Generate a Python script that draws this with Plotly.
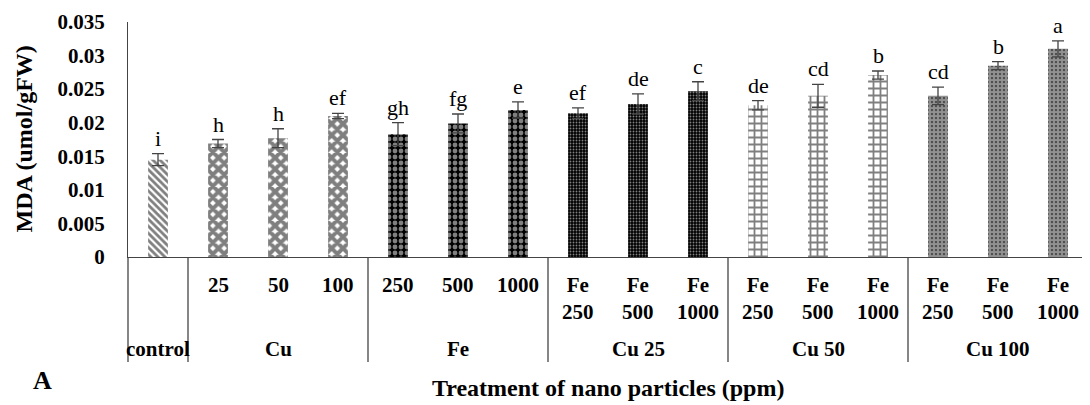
import plotly.graph_objects as go

# ---- data ----
groups = ["control", "Cu", "Cu", "Cu", "Fe", "Fe", "Fe",
          "Cu 25", "Cu 25", "Cu 25", "Cu 50", "Cu 50", "Cu 50",
          "Cu 100", "Cu 100", "Cu 100"]
sub_labels = ["", "25", "50", "100", "250", "500", "1000",
              "Fe<br>250", "Fe<br>500", "Fe<br>1000",
              "Fe<br>250", "Fe<br>500", "Fe<br>1000",
              "Fe<br>250", "Fe<br>500", "Fe<br>1000"]
values = [0.0145, 0.0169, 0.0177, 0.0210, 0.0183, 0.0199, 0.0219,
          0.0214, 0.0228, 0.0247, 0.0226, 0.0240, 0.0271,
          0.0240, 0.0285, 0.0310]
errors = [0.0009, 0.0006, 0.0014, 0.0004, 0.0017, 0.0014, 0.0012,
          0.0008, 0.0015, 0.0014, 0.0007, 0.0017, 0.0006,
          0.0013, 0.0006, 0.0012]
letters = ["i", "h", "h", "ef", "gh", "fg", "e", "ef", "de", "c",
           "de", "cd", "b", "cd", "b", "a"]
group_names = ["control", "Cu", "Fe", "Cu 25", "Cu 50", "Cu 100"]

# ---- styles per group ----
patterns = {
    "control": dict(shape="\\", fgcolor="black", bgcolor="white", size=5, solidity=0.55),
    "Cu": dict(shape="x", fgcolor="black", bgcolor="white", size=8, solidity=0.75),
    "Fe": dict(shape=".", fgcolor="white", bgcolor="black", size=6, solidity=0.5),
    "Cu 25": dict(shape=".", fgcolor="white", bgcolor="black", size=3, solidity=0.3),
    "Cu 50": dict(shape="+", fgcolor="black", bgcolor="white", size=7, solidity=0.45),
    "Cu 100": dict(shape=".", fgcolor="white", bgcolor="#222222", size=4, solidity=0.8),
}

serif = "Liberation Serif"
n = len(values)
cats = [f"{g}|{s}" for g, s in zip(groups, sub_labels)]

fig = go.Figure()
for g in group_names:
    idx = [i for i in range(n) if groups[i] == g]
    fig.add_trace(go.Bar(
        x=[cats[i] for i in idx],
        y=[values[i] for i in idx],
        error_y=dict(type="data", array=[errors[i] for i in idx], visible=True,
                     color="#444444", thickness=1.3, width=6),
        marker=dict(color="white", line=dict(width=0), pattern=patterns[g]),
        width=0.33,
        showlegend=False,
    ))

annotations = []
# significance letters
for i in range(n):
    annotations.append(dict(x=cats[i], y=values[i] + errors[i], xref="x", yref="y",
                            text=letters[i], showarrow=False, xanchor="center",
                            yanchor="bottom", yshift=1,
                            font=dict(family=serif, size=22, color="black")))
# first row labels
for i in range(n):
    if sub_labels[i]:
        annotations.append(dict(x=cats[i], y=0, xref="x", yref="paper",
                                text="<b>" + sub_labels[i] + "</b>", showarrow=False,
                                xanchor="center", yanchor="top", yshift=-14,
                                font=dict(family=serif, size=21, color="black")))
# group labels and dividers
shapes = []
for g in group_names:
    idx = [i for i in range(n) if groups[i] == g]
    center = (idx[0] + idx[-1]) / 2
    annotations.append(dict(x=(center + 0.5) / n, y=0, xref="paper", yref="paper",
                            text="<b>" + g + "</b>", showarrow=False,
                            xanchor="center", yanchor="middle", yshift=-92,
                            font=dict(family=serif, size=21, color="black")))
    shapes.append(dict(type="line", xref="paper", yref="paper",
                       x0=idx[0] / n, x1=idx[0] / n, y0=0, y1=-0.447,
                       line=dict(color="#444444", width=1.3)))

annotations.append(dict(x=0, y=0.5, xref="paper", yref="paper", xshift=-105,
                        text="<b>MDA (umol/gFW)</b>", textangle=-90, showarrow=False,
                        xanchor="center", yanchor="middle",
                        font=dict(family=serif, size=24, color="black")))
annotations.append(dict(x=0.5, y=0, xref="paper", yref="paper", yshift=-131,
                        text="<b>Treatment of nano particles (ppm)</b>", showarrow=False,
                        xanchor="center", yanchor="middle",
                        font=dict(family=serif, size=24, color="black")))
annotations.append(dict(x=0, y=0, xref="paper", yref="paper", xshift=-86, yshift=-123,
                        text="<b>A</b>", showarrow=False,
                        xanchor="center", yanchor="middle",
                        font=dict(family=serif, size=26, color="black")))

# the page places the figure 8px from the top-left corner
fig.update_layout(
    width=1082, height=397,
    margin=dict(l=120, r=2, t=12, b=148),
    paper_bgcolor="white", plot_bgcolor="white",
    bargap=0.67,
    annotations=annotations,
    shapes=shapes,
    xaxis=dict(type="category", categoryorder="array", categoryarray=cats,
               showticklabels=False, ticks="", showgrid=False,
               showline=True, linecolor="#444444", linewidth=1.3,
               range=[-0.5, n - 0.5]),
    yaxis=dict(range=[0, 0.035], dtick=0.005, tick0=0, showgrid=False, zeroline=False,
               showline=True, linecolor="#444444", linewidth=1.3, ticks="",
               ticklabelstandoff=18,
               tickfont=dict(family=serif, size=21, color="black", weight="bold")),
)

fig.write_html("out.html")
